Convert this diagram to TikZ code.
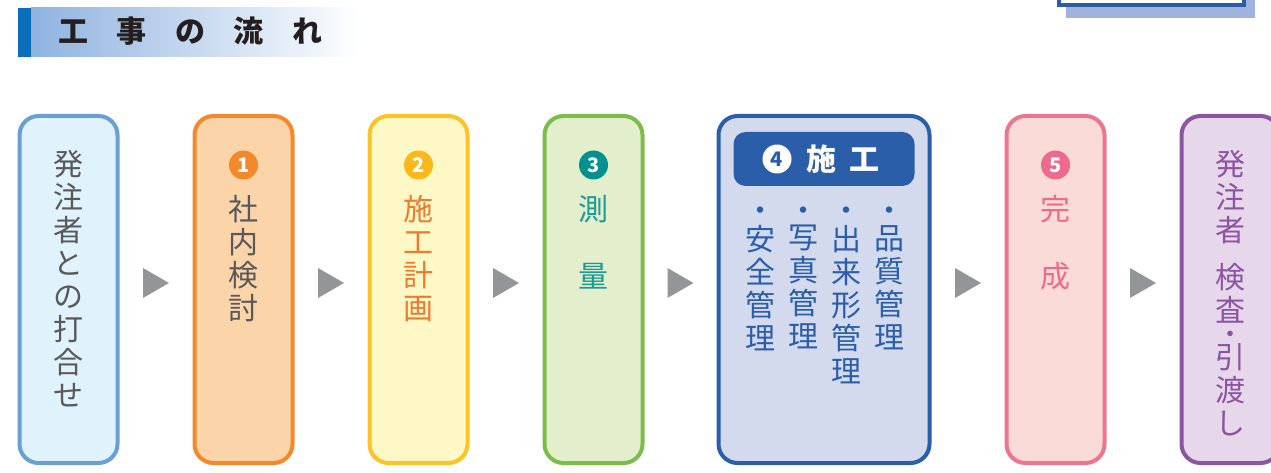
\documentclass[tikz,border=0pt]{standalone}
\usepackage{fontspec}
\newfontfamily\jpfont{Noto Sans CJK JP}
\usetikzlibrary{positioning, calc}

\definecolor{titlebar}{HTML}{0A6EBD}
\definecolor{titleshade}{HTML}{8FB3DF}
\definecolor{titleink}{HTML}{231F20}
\definecolor{frameblue}{HTML}{2A5CA8}
\definecolor{shadowblue}{HTML}{9FB3DD}
\definecolor{arrowgray}{HTML}{939598}
\definecolor{inkgray}{HTML}{58595B}
\definecolor{b0fill}{HTML}{E0F2FB}\definecolor{b0line}{HTML}{6A9FD5}
\definecolor{b1fill}{HTML}{FCD4A9}\definecolor{b1line}{HTML}{F3892B}
\definecolor{b2fill}{HTML}{FEF8C7}\definecolor{b2line}{HTML}{FDC224}
\definecolor{b2num}{HTML}{F9B91A}\definecolor{b2ink}{HTML}{EE7A2E}
\definecolor{b3fill}{HTML}{E3EECC}\definecolor{b3line}{HTML}{7BBD48}
\definecolor{b3num}{HTML}{00918F}\definecolor{b3ink}{HTML}{1B9A96}
\definecolor{b4fill}{HTML}{D3DAEE}\definecolor{b4line}{HTML}{2B5EA9}
\definecolor{b5fill}{HTML}{FBDBD8}\definecolor{b5line}{HTML}{EE7592}
\definecolor{b5ink}{HTML}{EE6A8C}
\definecolor{b6fill}{HTML}{E6D7EB}\definecolor{b6line}{HTML}{8D54A4}

\begin{document}
\begin{tikzpicture}[
    x=1pt, y=-1pt,
    node distance=175pt,
    on grid,
    stepbox/.style={draw, line width=4pt, rounded corners=19pt, minimum width=98pt, minimum height=347pt, inner sep=0pt},
    numdot/.style={circle, inner sep=0pt, minimum size=29pt, text=white, font=\jpfont\bfseries\fontsize{20}{20}\selectfont},
    vtext/.style={anchor=north, align=center, inner sep=0pt, font=\jpfont\fontsize{30}{33}\selectfont},
    dotmark/.style={inner sep=0pt, font=\jpfont\fontsize{30}{33}\selectfont},
    flow/.style={fill=arrowgray}
]
\useasboundingbox (0,0) rectangle (1271,473);

% 見出し
\fill[titlebar] (18,8) rectangle (31,57);
\shade[left color=titleshade, right color=white] (31,8) rectangle (360,57);
\node[font=\jpfont\bfseries\fontsize{30}{30}\selectfont, text=titleink, inner sep=0pt] (title) at (190,31.5) {工\hspace{28.5pt}事\hspace{28.5pt}の\hspace{28.5pt}流\hspace{28.5pt}れ};

% 右上の枠
\fill[shadowblue] (1066,-10) rectangle (1255,18);
\filldraw[fill=white, draw=frameblue, line width=4pt] (1059,-10) rectangle (1244,5);

% 工程の箱
\node[stepbox, draw=b0line, fill=b0fill] (s0) at (68.5,289.5) {};
\node[stepbox, draw=b1line, fill=b1fill, right=of s0] (s1) {};
\node[stepbox, draw=b2line, fill=b2fill, right=of s1] (s2) {};
\node[stepbox, draw=b3line, fill=b3fill, right=of s2] (s3) {};
\node[stepbox, draw=b4line, fill=b4fill, minimum width=211pt, right=230.5pt of s3] (s4) {};
\node[stepbox, draw=b5line, fill=b5fill, right=231.5pt of s4] (s5) {};
\node[stepbox, draw=b6line, fill=b6fill, right=of s5] (s6) {};

% 箱の間の三角
\foreach \a/\b in {s0/s1, s1/s2, s2/s3, s3/s4, s4/s5, s5/s6}
  \fill[flow] ($(\a.east)!0.5!(\b.west)$) ++(-13,-21.5) -- ++(0,30) -- ++(26,-15) -- cycle;

% 文字
\node[vtext, text=inkgray] (t0) at (s0 |- 0,150) {発\\注\\者\\と\\の\\打\\合\\せ};

\node[numdot, fill=b1line] (n1) at (s1 |- 0,165) {1};
\node[vtext, text=inkgray] (t1) at (s1 |- 0,195) {社\\内\\検\\討};

\node[numdot, fill=b2num] (n2) at (s2 |- 0,165) {2};
\node[vtext, text=b2ink] (t2) at (s2 |- 0,195) {施\\工\\計\\画};

\node[numdot, fill=b3num] (n3) at (s3 |- 0,165) {3};
\node[vtext, text=b3ink] (t3) at (s3 |- 0,195) {測\\[34pt]量};

\node[fill=b4line, rounded corners=12pt, minimum width=181pt, minimum height=54pt, inner sep=0pt] (h4) at (s4 |- 0,159) {};
\node[numdot, fill=white, text=b4line] (n4) at (777,159) {4};
\node[font=\jpfont\bfseries\fontsize{30}{30}\selectfont, text=white, inner sep=0pt] (h4t) at (843,159) {施\hspace{14pt}工};
\foreach \x [count=\i] in {760,803,846,889}
  \node[dotmark, text=b4line] (d\i) at (\x,214) {・};
\node[vtext, text=b4line] (c1) at (d1 |- 0,225) {安\\全\\管\\理};
\node[vtext, text=b4line] (c2) at (d2 |- 0,225) {写\\真\\管\\理};
\node[vtext, text=b4line] (c3) at (d3 |- 0,225) {出\\来\\形\\管\\理};
\node[vtext, text=b4line] (c4) at (d4 |- 0,225) {品\\質\\管\\理};

\node[numdot, fill=b5ink] (n5) at (s5 |- 0,165) {5};
\node[vtext, text=b5ink] (t5) at (s5 |- 0,195) {完\\[34pt]成};

\node[vtext, text=b6line] (t6) at (s6 |- 0,150) {発\\注\\者\\[14pt]検\\査};
\node[dotmark, text=b6line, font=\jpfont\bfseries\fontsize{20}{20}\selectfont] (d6) at (s6 |- 0,336) {・};
\node[vtext, text=b6line] (t6b) at (s6 |- 0,343) {引\\渡\\し};

\end{tikzpicture}
\end{document}
